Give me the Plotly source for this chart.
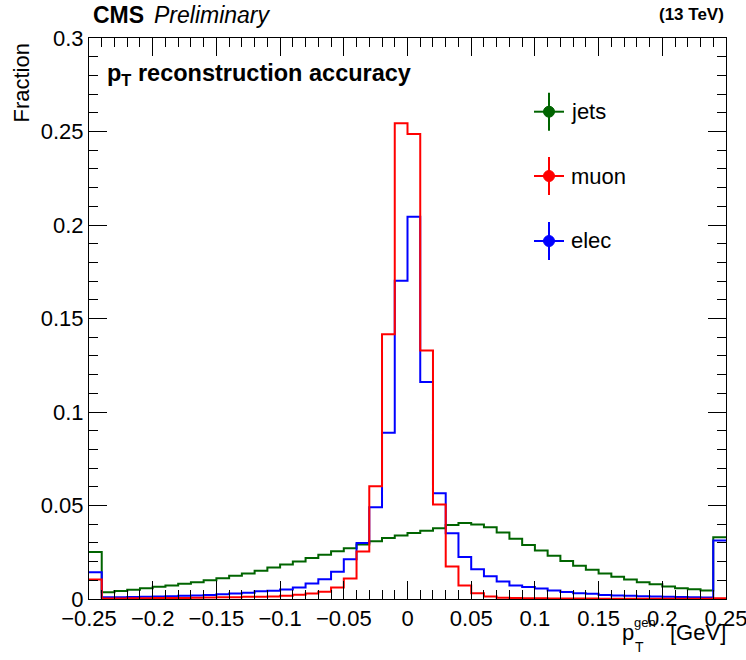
import plotly.graph_objects as go

# ---- data ----
bin_edges = [round(-0.25 + 0.01 * i, 2) for i in range(51)]

jets = [0.0252, 0.0036, 0.0043, 0.0049, 0.0058, 0.0065, 0.0072, 0.0082, 0.0090, 0.0100,
        0.0111, 0.0124, 0.0137, 0.0151, 0.0168, 0.0185, 0.0201, 0.0219, 0.0237, 0.0255,
        0.0271, 0.0292, 0.0309, 0.0326, 0.0339, 0.0353, 0.0365, 0.0378, 0.0396, 0.0406,
        0.0399, 0.0384, 0.0355, 0.0322, 0.0289, 0.0260, 0.0231, 0.0203, 0.0178, 0.0156,
        0.0137, 0.0119, 0.0104, 0.0090, 0.0079, 0.0067, 0.0058, 0.0052, 0.0046, 0.0330]

muon = [0.0104, 0.0003, 0.0003, 0.0004, 0.0004, 0.0005, 0.0005, 0.0006, 0.0007, 0.0008,
        0.0009, 0.0010, 0.0012, 0.0012, 0.0014, 0.0018, 0.0023, 0.0030, 0.0039, 0.0062,
        0.0110, 0.0254, 0.0603, 0.1416, 0.2544, 0.2486, 0.1329, 0.0505, 0.0174, 0.0072,
        0.0031, 0.0013, 0.0007, 0.0005, 0.0004, 0.0004, 0.0003, 0.0003, 0.0003, 0.0003,
        0.0002, 0.0002, 0.0002, 0.0002, 0.0002, 0.0002, 0.0002, 0.0002, 0.0002, 0.0004]

elec = [0.0143, 0.0010, 0.0010, 0.0011, 0.0012, 0.0013, 0.0015, 0.0017, 0.0019, 0.0022,
        0.0026, 0.0030, 0.0034, 0.0041, 0.0044, 0.0051, 0.0062, 0.0083, 0.0105, 0.0146,
        0.0212, 0.0299, 0.0490, 0.0889, 0.1702, 0.2044, 0.1161, 0.0566, 0.0352, 0.0224,
        0.0159, 0.0122, 0.0094, 0.0072, 0.0064, 0.0056, 0.0045, 0.0038, 0.0031, 0.0028,
        0.0022, 0.0019, 0.0017, 0.0015, 0.0014, 0.0012, 0.0011, 0.0009, 0.0008, 0.0313]

series = [("jets", jets, "#006400"), ("elec", elec, "#0000ff"), ("muon", muon, "#ff0000")]
legend_order = [("jets", "#006400"), ("muon", "#ff0000"), ("elec", "#0000ff")]

W, H = 746, 660
L, R, T, B = 89, 20, 38, 61
PW, PH = W - L - R, H - T - B
FONT = "Liberation Sans, Arial, Helvetica, sans-serif"


def px(x):  # pixel -> paper x
    return (x - L) / PW


def py(y):  # pixel -> paper y
    return (T + PH - y) / PH


fig = go.Figure()
for name, vals, col in series:
    fig.add_trace(go.Scatter(
        x=bin_edges, y=vals + [vals[-1]], mode="lines", line_shape="hv",
        line=dict(color=col, width=2), name=name, showlegend=False,
        hoverinfo="skip"))

axis_common = dict(
    showline=True, linecolor="black", linewidth=1, mirror="ticks",
    ticks="inside", ticklen=18, tickwidth=1, tickcolor="black",
    showgrid=False, zeroline=False, ticklabeloverflow="allow", automargin=False,
    tickfont=dict(family=FONT, size=22, color="black"),
)
fig.update_xaxes(range=[-0.25, 0.25], tick0=-0.25, dtick=0.05,
                 minor=dict(ticks="inside", ticklen=9, dtick=0.01, tick0=-0.25,
                            tickcolor="black", showgrid=False),
                 **axis_common)
fig.update_yaxes(range=[0, 0.3], tick0=0, dtick=0.05,
                 minor=dict(ticks="inside", ticklen=9, dtick=0.01, tick0=0,
                            tickcolor="black", showgrid=False),
                 **axis_common)

shapes = []
annotations = []
# legend drawn as marker + error-bar glyphs
leg_y = [111.7, 176, 241]
cx = 549
for (name, col), yc in zip(legend_order, leg_y):
    shapes.append(dict(type="line", xref="paper", yref="paper",
                       x0=px(534), x1=px(564), y0=py(yc), y1=py(yc),
                       line=dict(color=col, width=2)))
    shapes.append(dict(type="line", xref="paper", yref="paper",
                       x0=px(cx), x1=px(cx), y0=py(yc - 19), y1=py(yc + 19),
                       line=dict(color=col, width=2)))
    shapes.append(dict(type="circle", xref="paper", yref="paper",
                       x0=px(cx - 5.5), x1=px(cx + 5.5), y0=py(yc - 5.5), y1=py(yc + 5.5),
                       fillcolor=col, line=dict(color=col, width=1)))
    annotations.append(dict(text=name, xref="paper", yref="paper", x=px(569), y=py(yc),
                            xanchor="left", yanchor="middle", showarrow=False,
                            font=dict(family=FONT, size=22, color="black")))

# header texts
annotations += [
    dict(text="<b>CMS</b>", xref="paper", yref="paper", x=px(91), y=py(15),
         xanchor="left", yanchor="middle", showarrow=False,
         font=dict(family=FONT, size=23, color="black")),
    dict(text="<i>Preliminary</i>", xref="paper", yref="paper", x=px(152), y=py(15),
         xanchor="left", yanchor="middle", showarrow=False,
         font=dict(family=FONT, size=23, color="black")),
    dict(text="<b>(13 TeV)</b>", xref="paper", yref="paper", x=px(726), y=py(15),
         xanchor="right", yanchor="middle", showarrow=False,
         font=dict(family=FONT, size=17, color="black")),
    dict(text="<b>p<sub>T</sub> reconstruction accuracy</b>", xref="paper", yref="paper",
         x=px(105), y=py(74), xanchor="left", yanchor="middle", showarrow=False,
         font=dict(family=FONT, size=23.5, color="black")),
    dict(text="Fraction", xref="paper", yref="paper", x=px(21), y=py(42),
         xanchor="center", yanchor="top", textangle=-90, showarrow=False,
         font=dict(family=FONT, size=22, color="black")),
    # x-axis title p_T^gen [GeV]
    dict(text="p", xref="paper", yref="paper", x=px(620), y=py(632),
         xanchor="left", yanchor="middle", showarrow=False,
         font=dict(family=FONT, size=22, color="black")),
    dict(text="gen", xref="paper", yref="paper", x=px(632), y=py(622),
         xanchor="left", yanchor="middle", showarrow=False,
         font=dict(family=FONT, size=13, color="black")),
    dict(text="T", xref="paper", yref="paper", x=px(633), y=py(647),
         xanchor="left", yanchor="middle", showarrow=False,
         font=dict(family=FONT, size=14, color="black")),
    dict(text="[GeV]", xref="paper", yref="paper", x=px(728), y=py(632),
         xanchor="right", yanchor="middle", showarrow=False,
         font=dict(family=FONT, size=22, color="black")),
]

fig.update_layout(
    width=W, height=H, autosize=False,
    margin=dict(l=L, r=R, t=T, b=B, pad=0, autoexpand=False),
    paper_bgcolor="white", plot_bgcolor="white",
    showlegend=False, shapes=shapes, annotations=annotations,
    font=dict(family=FONT, color="black"),
)

fig.write_html("out.html", config={"displayModeBar": False},
               post_script="document.body.style.margin='0px';"
                           "document.body.style.padding='0px';")
